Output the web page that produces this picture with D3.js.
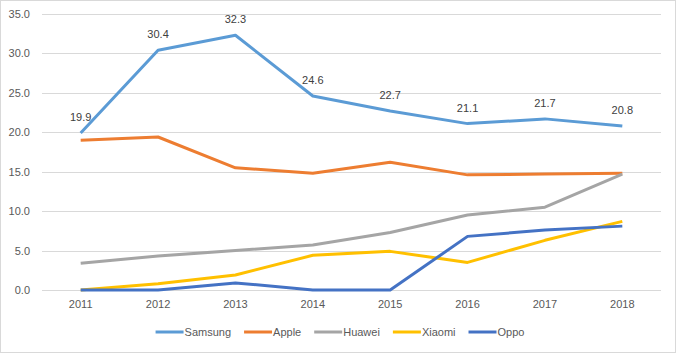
<!DOCTYPE html>
<html>
<head>
<meta charset="utf-8">
<script src="https://cdn.jsdelivr.net/npm/d3@7"></script>
<style>
  body { margin: 0; background: #fff; }
  text { font-family: "Liberation Sans", Arial, sans-serif; }
</style>
</head>
<body>
<svg id="chart"></svg>
<script>
// data
const years = ['2011', '2012', '2013', '2014', '2015', '2016', '2017', '2018'];
const yTicks = [0, 5, 10, 15, 20, 25, 30, 35];
const seriesNames = ['Samsung', 'Apple', 'Huawei', 'Xiaomi', 'Oppo'];
const samsung = [19.9, 30.4, 32.3, 24.6, 22.7, 21.1, 21.7, 20.8];
const apple = [19.0, 19.4, 15.5, 14.8, 16.2, 14.6, 14.7, 14.8];
const huawei = [3.4, 4.3, 5.0, 5.7, 7.3, 9.5, 10.5, 14.7];
const xiaomi = [0.0, 0.8, 1.9, 4.4, 4.9, 3.5, 6.3, 8.7];
const oppo = [0.0, 0.0, 0.9, 0.0, 0.0, 6.8, 7.6, 8.1];
const colors = ['#5B9BD5', '#ED7D31', '#A5A5A5', '#FFC000', '#4472C4'];

const series = [samsung, apple, huawei, xiaomi, oppo].map((vals, i) => ({
  name: seriesNames[i], color: colors[i], values: vals
}));

const config = {
  width: 676, height: 353,
  margin: { top: 14, right: 15, bottom: 63, left: 42 }
};
const innerW = config.width - config.margin.left - config.margin.right;
const innerH = config.height - config.margin.top - config.margin.bottom;

const svg = d3.select('#chart')
  .attr('width', config.width)
  .attr('height', config.height);

// outer border
svg.append('rect')
  .attr('x', 0.5).attr('y', 0.5)
  .attr('width', config.width - 1).attr('height', config.height - 1)
  .attr('fill', '#fff').attr('stroke', '#D9D9D9');

const chart = svg.append('g')
  .attr('transform', `translate(${config.margin.left},${config.margin.top})`);

const xScale = d3.scaleBand().domain(years).range([0, innerW]);
const yScale = d3.scaleLinear().domain([0, 35]).range([innerH, 0]);

// gridlines
chart.append('g')
  .selectAll('line')
  .data(yTicks)
  .join('line')
  .attr('x1', 0).attr('x2', innerW)
  .attr('y1', d => Math.round(yScale(d)) + 0.5)
  .attr('y2', d => Math.round(yScale(d)) + 0.5)
  .attr('stroke', '#D9D9D9').attr('stroke-width', 1);

// y axis labels
const yAxis = d3.axisLeft(yScale).tickValues(yTicks).tickFormat(d3.format('.1f')).tickSize(0).tickPadding(12);
chart.append('g').attr('class', 'y-axis').call(yAxis)
  .call(g => g.select('.domain').remove())
  .selectAll('text')
  .attr('fill', '#595959').attr('font-size', '11px')
  .attr('font-family', '"Liberation Sans", Arial, sans-serif');

// x axis labels
const xAxis = d3.axisBottom(xScale).tickSize(0).tickPadding(10);
chart.append('g').attr('class', 'x-axis')
  .attr('transform', `translate(0,${innerH})`)
  .call(xAxis)
  .call(g => g.select('.domain').remove())
  .selectAll('text')
  .attr('fill', '#595959').attr('font-size', '11px')
  .attr('font-family', '"Liberation Sans", Arial, sans-serif');

const line = d3.line()
  .x((d, i) => xScale(years[i]) + xScale.bandwidth() / 2)
  .y(d => yScale(d));

chart.selectAll('.series')
  .data(series)
  .join('path')
  .attr('class', 'series')
  .attr('d', d => line(d.values))
  .attr('fill', 'none')
  .attr('stroke', d => d.color)
  .attr('stroke-width', 3)
  .attr('stroke-linejoin', 'round');

// data labels for Samsung
chart.selectAll('.data-label')
  .data(samsung)
  .join('text')
  .attr('class', 'data-label')
  .attr('x', (d, i) => xScale(years[i]) + xScale.bandwidth() / 2)
  .attr('y', d => yScale(d) - 12)
  .attr('text-anchor', 'middle')
  .attr('fill', '#404040')
  .attr('font-size', '11px')
  .text(d => d3.format('.1f')(d));

// legend
const legend = svg.append('g').attr('transform', `translate(0,332)`);
const items = legend.selectAll('g')
  .data(series)
  .join('g');
items.append('line')
  .attr('x1', 0).attr('x2', 28)
  .attr('y1', 0).attr('y2', 0)
  .attr('stroke', d => d.color).attr('stroke-width', 3);
items.append('text')
  .attr('x', 29).attr('y', 4)
  .attr('fill', '#595959').attr('font-size', '11px')
  .text(d => d.name);

let xPos = 0;
const positions = [];
items.each(function() {
  const w = d3.select(this).select('text').node().getComputedTextLength();
  positions.push(xPos);
  xPos += 29 + w + 13;
});
const total = xPos - 13;
const start = 340 - total / 2;
items.attr('transform', (d, i) => `translate(${start + positions[i]},0)`);
</script>
</body>
</html>
